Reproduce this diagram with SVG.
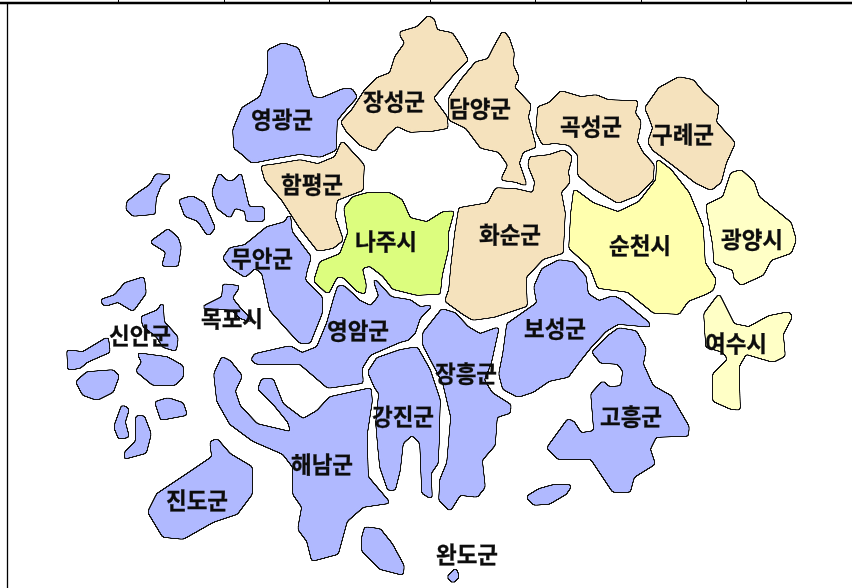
<svg xmlns="http://www.w3.org/2000/svg" width="852" height="588" viewBox="0 0 852 588">
<style>
.r{filter:url(#s)}
.b{fill:#b0b9ff}.t{fill:#f5e2bd}.g{fill:#dcfd7e}.y{fill:#ffffae}.l{fill:#ffffc6}
text{font-family:"Noto Sans CJK KR","Noto Sans",sans-serif;font-weight:700;font-size:22.500px;fill:#111;stroke:#111;stroke-width:.3;text-anchor:middle;filter:url(#soft)}
.frame{stroke:#000;fill:none}
</style>
<defs>
<filter id="soft" filterUnits="userSpaceOnUse" x="0" y="0" width="852" height="588"><feGaussianBlur stdDeviation="0.4"/></filter>
<filter id="s" filterUnits="userSpaceOnUse" x="0" y="0" width="852" height="588" color-interpolation-filters="sRGB">
<feGaussianBlur in="SourceGraphic" stdDeviation="1.4" result="b"/>
<feComponentTransfer in="b" result="c"><feFuncA type="linear" slope="12" intercept="-6.200"/></feComponentTransfer>
<feMorphology in="c" operator="dilate" radius="1.2" result="d"/>
<feFlood flood-color="#111"/>
<feComposite in2="d" operator="in" result="o"/>
<feMerge result="m"><feMergeNode in="o"/><feMergeNode in="c"/></feMerge>
<feGaussianBlur in="m" stdDeviation="0.4"/>
</filter>
</defs>
<rect width="852" height="588" fill="#fff"/>
<g id="frame" class="frame">
<path d="M0 3H852" stroke-width="2.4"/>
<path d="M7.500 3V588" stroke-width="1.300"/>
<path d="M118.500 0V3M224.500 0V3M329.500 0V3M430.500 0V3M535.500 0V3M641.500 0V3M746.500 0V3" stroke-width="1"/>
</g>
<g id="sinan">
<polygon class="r b" points="127,202 138,193 150,185 156,174 172,175 161,185 156,198 155,214 133,216 126,209"/>
<polygon class="r b" points="212,192 219,173 227,181 233,181 241,173 249,207 264,207 264,221 246,221 245,211 235,208 230,218 217,208"/>
<polygon class="r b" points="179,200 192,196 204,203 215,228 208,236 198,221 185,216"/>
<polygon class="r b" points="150,242 160,235 168,229 178,238 181,247 178,266 162,266 166,252"/>
<polygon class="r b" points="100,300 115,295 125,283 144,277 146,293 133,311 118,302 105,306"/>
<polygon class="r b" points="141,317 158,310 163,301 164,322 175,334 178,338 176,351 163,347 157,337 143,326"/>
<polygon class="r b" points="67,350 83,352 108,337 110,352 87,362 80,368 68,370"/>
<polygon class="r b" points="76,382 87,372 113,370 119,376 113,392 97,400 83,395"/>
<polygon class="r b" points="137,353 167,357 183,366 183,377 175,385 153,385 136,371 142,362"/>
<polygon class="r b" points="155,402 168,398 183,403 187,415 161,420"/>
<polygon class="r b" points="114,427 122,405 129,409 125,422 129,437 119,439"/>
<polygon class="r b" points="136,416 144,416 151,434 146,453 124,459 125,452 136,441"/>
<text x="140" y="344">신안군</text>
</g>
<g id="yeonggwang"><polygon class="r b" points="268,50 283,43 298,48 304,63 308,83 313,97 322,98 343,89 352,89 357,97 347,108 337,120 336,150 320,157 300,154 277,158 252,163 242,154 234,148 233,130 242,108 260,97 268,73"/><text x="282" y="128">영광군</text></g>
<g id="jangseong"><polygon class="r t" points="400,32 417,27 428,16 434,19 437,30 452,33 458,42 468,60 453,75 433,98 447,117 448,128 432,131 410,132 397,126 387,135 375,151 360,145 347,132 341,122 352,110 365,90 377,78 390,73 395,57 405,43 400,35"/><text x="394" y="110">장성군</text></g>
<g id="damyang"><polygon class="r t" points="476,62 488,59 494,47 503,31 509,38 514,53 513,65 519,78 514,87 531,105 528,117 536,147 523,152 519,163 527,186 516,182 501,180 508,165 499,152 481,148 466,128 449,120 449,110 449,98 461,80"/><text x="480" y="117">담양군</text></g>
<g id="gokseong"><polygon class="r t" points="538,107 549,103 561,91 581,97 596,95 608,100 638,101 635,113 641,122 637,142 643,153 654,165 653,180 638,195 618,203 593,188 578,175 578,155 569,145 554,143 543,145 536,132"/><text x="591" y="135">곡성군</text></g>
<g id="gurye"><polygon class="r t" points="645,108 659,88 679,77 693,80 703,92 719,107 716,122 735,143 726,163 721,182 711,190 696,183 673,165 653,150 648,142 653,128 649,117"/><text x="683" y="143">구례군</text></g>
<g id="hampyeong"><polygon class="r t" points="261,166 277,164 300,160 318,164 335,157 342,141 364,165 363,190 337,200 335,217 343,240 333,248 318,251 300,228 282,200 265,180"/><text x="312" y="193">함평군</text></g>
<g id="hwasun"><polygon class="r t" points="459,208 488,203 496,188 516,189 533,193 535,182 528,165 530,157 549,155 564,150 572,157 568,172 570,182 561,192 565,213 563,253 543,259 526,277 527,306 494,317 473,320 463,314 445,301 449,290 451,267 455,233"/><text x="510" y="243">화순군</text></g>
<g id="naju"><polygon class="r g" points="344,208 353,197 367,193 390,193 402,200 410,218 427,222 443,212 454,211 448,233 448,250 442,275 440,294 417,295 393,289 383,276 370,266 362,268 366,285 365,294 357,291 343,277 337,277 328,294 314,281 320,262 340,254 348,233"/><text x="386" y="250">나주시</text></g>
<g id="suncheon"><polygon class="r y" points="574,189 593,203 618,212 639,202 656,180 657,159 671,170 689,193 703,227 705,263 716,280 713,290 706,294 688,301 679,314 654,313 628,292 598,288 590,267 569,248 571,213"/><text x="640" y="254">순천시</text></g>
<g id="gwangyang"><polygon class="r l" points="706,205 723,197 731,173 741,170 754,182 759,197 779,213 791,223 796,240 791,253 771,260 763,275 741,285 734,278 733,270 714,263 713,245 709,223"/><text x="752" y="248">광양시</text></g>
<g id="muan"><polygon class="r b" points="290,213 292,232 311,257 307,270 305,280 322,297 322,313 310,343 300,343 285,327 270,310 262,273 255,268 245,277 230,267 223,258 230,248 245,245 267,227 285,222"/><text x="262" y="267">무안군</text></g>
<g id="mokpo"><polygon class="r b" points="200,308 222,297 223,284 240,286 232,298 240,308 254,323 240,318 232,310"/><text x="232" y="327">목포시</text></g>
<g id="yeongam"><polygon class="r b" points="338,286 344,286 360,301 371,306 379,296 372,276 381,286 391,297 410,300 420,307 433,305 420,318 415,333 408,340 400,342 370,355 362,368 363,383 328,388 300,364 257,364 251,360 255,354 290,346 302,353 317,347 327,323 334,298"/><text x="358" y="339">영암군</text></g>
<g id="jangheung"><polygon class="r b" points="442,309 455,313 468,327 480,334 499,327 495,345 491,363 484,380 492,393 511,405 510,413 497,417 495,445 482,460 485,487 477,497 460,495 450,511 439,500 440,480 447,463 451,417 443,383 423,345 423,333"/><text x="466" y="382">장흥군</text></g>
<g id="gangjin"><polygon class="r b" points="368,372 377,358 400,350 417,347 430,370 440,400 439,440 438,463 431,473 432,499 422,493 420,443 412,435 403,443 400,470 395,490 388,490 380,467 378,447 376,423 379,393 375,388"/><text x="403" y="425">강진군</text></g>
<g id="boseong"><polygon class="r b" points="559,260 542,269 534,287 537,303 507,324 503,354 499,374 503,389 518,397 533,392 549,381 568,377 579,362 591,347 606,331 618,324 651,327 648,322 620,299 613,296 599,301 588,294 586,277 573,262"/><text x="555" y="337">보성군</text></g>
<g id="goheung"><polygon class="r b" points="592,352 608,336 619,328 636,331 646,349 643,364 653,386 671,396 689,427 688,436 656,437 650,449 655,464 634,477 630,492 613,492 591,459 558,459 547,448 568,419 574,422 581,433 594,431 591,394 603,381 609,387 621,386 623,371 618,364 601,363"/><text x="631" y="425">고흥군</text></g>
<g id="yeosu"><polygon class="r l" points="719,294 734,324 749,327 769,316 789,312 792,317 783,334 785,356 773,362 746,354 739,366 740,410 731,409 713,401 713,374 728,359 723,352 706,347 704,314"/><text x="736" y="352">여수시</text></g>
<g id="haenam"><polygon class="r b" points="222,357 230,361 242,376 235,391 240,406 257,424 291,432 288,422 275,406 258,389 262,379 273,379 283,404 303,419 317,411 330,397 371,388 372,401 367,434 368,477 390,503 363,507 347,521 338,554 312,561 307,541 298,529 302,507 293,494 293,467 283,454 253,441 230,424 217,401 214,374"/><text x="322" y="473">해남군</text></g>
<g id="jindo"><polygon class="r b" points="210,442 217,439 230,454 252,467 252,494 237,514 213,522 183,539 163,537 148,512 157,494 187,474 212,457"/><text x="197" y="509">진도군</text></g>
<g id="wando">
<polygon class="r b" points="365,527 380,529 392,544 404,566 403,575 380,569 362,551 362,537"/>
<polygon class="r b" points="526,497 539,489 553,485 572,485 566,494 549,504 534,505"/>
<polygon class="r b" points="447,577 456,568 459,577 453,583"/>
<text x="467" y="563">완도군</text>
</g>
</svg>
